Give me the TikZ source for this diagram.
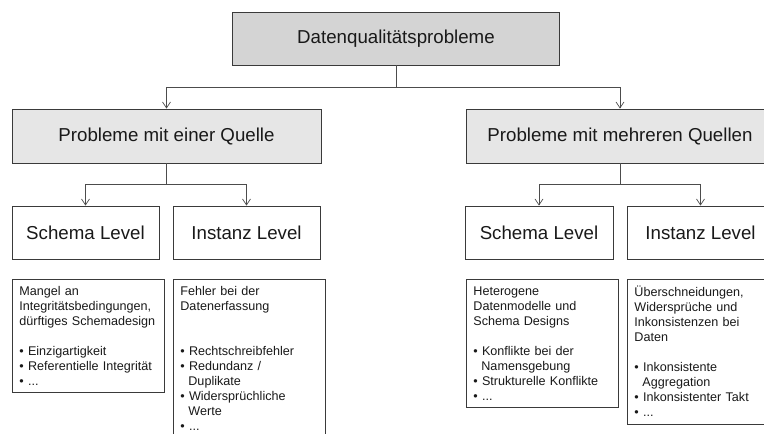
\documentclass[tikz,border=0pt]{standalone}
\usepackage{fontspec}
\setmainfont{Liberation Sans}
\usetikzlibrary{arrows.meta}
\definecolor{frame}{HTML}{3A3A3A}
\definecolor{topfill}{HTML}{D4D4D4}
\definecolor{srcfill}{HTML}{E6E6E6}
\newcommand{\itemdot}{\textbullet\ }
\newcommand{\itemcont}{\hspace*{8pt}}
\begin{document}
\begin{tikzpicture}[x=1pt,y=-1pt]
    \tikzstyle{every node}+=[text=black!90]
    \tikzstyle{head}=[draw=frame,line width=0.8pt,inner sep=0pt,font=\fontsize{18.7}{22}\selectfont]
    \tikzstyle{desc}=[draw=frame,line width=0.8pt,anchor=north west,align=left,text width=138pt,inner xsep=7pt,inner ysep=7pt,font=\fontsize{12.6}{15}\selectfont]
    \tikzstyle{link}=[draw=black!70,line width=0.7pt,-{Straight Barb[length=6pt,width=8pt]}]
    \clip (0,0) rectangle (764,434);
    % top level
    \node [head,fill=topfill,minimum width=327pt,minimum height=53pt] (dq) at (396,38.5) {Datenqualitätsprobleme};
    % sources
    \node [head,fill=srcfill,minimum width=309pt,minimum height=54pt] (q1) at (166.5,136) {Probleme mit einer Quelle};
    \node [head,fill=srcfill,minimum width=308pt,minimum height=54pt] (q2) at (620,136) {Probleme mit mehreren Quellen};
    % levels
    \node [head,minimum width=147pt,minimum height=53pt] (s1) at (85.5,232.5) {Schema Level};
    \node [head,minimum width=147pt,minimum height=53pt] (i1) at (246.5,232.5) {Instanz Level};
    \node [head,minimum width=148pt,minimum height=53pt] (s2) at (539,232.5) {Schema Level};
    \node [head,minimum width=147pt,minimum height=53pt] (i2) at (700.5,232.5) {Instanz Level};
    % details
    \node [desc] (d1) at (12,279) {Mangel an\\Integritätsbedingungen,\\dürftiges Schemadesign\\[15pt]
        \itemdot Einzigartigkeit\\\itemdot Referentielle Integrität\\\itemdot ...};
    \node [desc] (d2) at (173,279) {Fehler bei der\\Datenerfassung\\[30pt]
        \itemdot Rechtschreibfehler\\\itemdot Redundanz /\\\itemcont Duplikate\\\itemdot Widersprüchliche\\\itemcont Werte\\\itemdot ...};
    \node [desc] (d3) at (466,279) {Heterogene\\Datenmodelle und\\Schema Designs\\[15pt]
        \itemdot Konflikte bei der\\\itemcont Namensgebung\\\itemdot Strukturelle Konflikte\\\itemdot ...};
    \node [desc] (d4) at (627,279) {Überschneidungen,\\Widersprüche und\\Inkonsistenzen bei\\Daten\\[15pt]
        \itemdot Inkonsistente\\\itemcont Aggregation\\\itemdot Inkonsistenter Takt\\\itemdot ...};
    % connectors
    \draw [link] (dq.south) -- ++(0,22) -| (q1.north);
    \draw [link] (dq.south) -- ++(0,22) -| (q2.north);
    \draw [link] (q1.south) -- ++(0,21) -| (s1.north);
    \draw [link] (q1.south) -- ++(0,21) -| (i1.north);
    \draw [link] (q2.south) -- ++(0,21) -| (s2.north);
    \draw [link] (q2.south) -- ++(0,21) -| (i2.north);
\end{tikzpicture}
\end{document}
